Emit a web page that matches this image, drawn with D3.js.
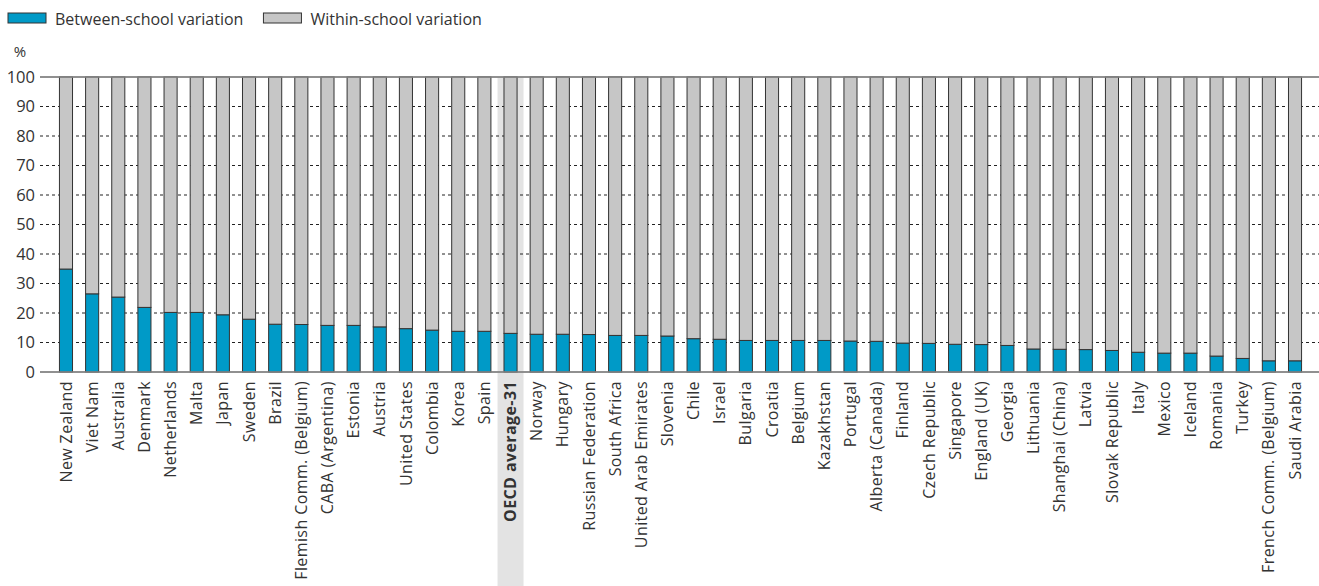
<!DOCTYPE html>
<html>
<head>
<meta charset="utf-8">
<script src="https://cdn.jsdelivr.net/npm/d3@7"></script>
<style>
  body { margin: 0; background: #fff; }
  text { font-family: "Open Sans", "Noto Sans", sans-serif; fill: #333; }
</style>
</head>
<body>
<div id="chart"></div>
<script>
// Data
const countries = [
  "New Zealand", "Viet Nam", "Australia", "Denmark", "Netherlands", "Malta", "Japan", "Sweden",
  "Brazil", "Flemish Comm. (Belgium)", "CABA (Argentina)", "Estonia", "Austria", "United States",
  "Colombia", "Korea", "Spain", "OECD average-31", "Norway", "Hungary", "Russian Federation",
  "South Africa", "United Arab Emirates", "Slovenia", "Chile", "Israel", "Bulgaria", "Croatia",
  "Belgium", "Kazakhstan", "Portugal", "Alberta (Canada)", "Finland", "Czech Republic", "Singapore",
  "England (UK)", "Georgia", "Lithuania", "Shanghai (China)", "Latvia", "Slovak Republic", "Italy",
  "Mexico", "Iceland", "Romania", "Turkey", "French Comm. (Belgium)", "Saudi Arabia"
];
const betweenSchool = [
  34.9, 26.5, 25.4, 21.9, 20.2, 20.2, 19.4, 17.9,
  16.2, 16.1, 15.8, 15.8, 15.3, 14.7,
  14.2, 13.8, 13.8, 13.1, 12.8, 12.8, 12.7,
  12.4, 12.4, 12.2, 11.3, 11.1, 10.7, 10.7,
  10.7, 10.7, 10.5, 10.4, 9.8, 9.7, 9.4,
  9.3, 9.0, 7.8, 7.7, 7.6, 7.3, 6.7,
  6.4, 6.4, 5.4, 4.6, 3.8, 3.8
];
const withinSchool = betweenSchool.map(v => 100 - v);
const yTicks = [0, 10, 20, 30, 40, 50, 60, 70, 80, 90, 100];
const highlight = "OECD average-31";
const legendItems = [
  { label: "Between-school variation", color: "#009ac7" },
  { label: "Within-school variation", color: "#c6c6c6" }
];

const width = 1319, height = 586;
const plotLeft = 40, plotRight = 1319, plotTop = 77, plotBottom = 372;

const svg = d3.select("#chart")
  .append("svg")
  .attr("width", width)
  .attr("height", height);

const x = d3.scaleBand()
  .domain(countries)
  .range([42, plotRight])
  .paddingInner(0.5)
  .paddingOuter(0.667);

const y = d3.scaleLinear()
  .domain([0, 100])
  .range([plotBottom, plotTop]);

// highlight band behind OECD average
svg.append("rect")
  .attr("x", x(highlight) + x.bandwidth() / 2 - 13)
  .attr("y", plotTop)
  .attr("width", 26)
  .attr("height", height - plotTop)
  .attr("fill", "#e3e3e3");

// gridlines
const grid = svg.append("g");
grid.selectAll("line")
  .data(yTicks)
  .join("line")
  .attr("x1", plotLeft)
  .attr("x2", plotRight)
  .attr("y1", d => y(d))
  .attr("y2", d => y(d))
  .attr("stroke", d => (d === 0 || d === 100) ? "#888" : "#222")
  .attr("stroke-width", d => (d === 0 || d === 100) ? 1.5 : 1)
  .attr("stroke-dasharray", d => (d === 0 || d === 100) ? null : "3,3");

grid.selectAll("text")
  .data(yTicks)
  .join("text")
  .attr("x", 35)
  .attr("y", d => y(d))
  .attr("dy", "0.35em")
  .attr("text-anchor", "end")
  .attr("font-size", 16.5)
  .text(d => d);

svg.append("text")
  .attr("x", 20)
  .attr("y", 57)
  .attr("text-anchor", "middle")
  .attr("font-size", 15)
  .text("%");

// stacked bars
const stackData = countries.map((c, i) => ({ country: c, between: betweenSchool[i], within: withinSchool[i] }));
const series = d3.stack().keys(["between", "within"])(stackData);
const colors = ["#009ac7", "#c6c6c6"];

svg.append("g")
  .selectAll("g")
  .data(series)
  .join("g")
  .attr("fill", (d, i) => colors[i])
  .selectAll("rect")
  .data(d => d)
  .join("rect")
  .attr("x", d => x(d.data.country))
  .attr("width", x.bandwidth())
  .attr("y", d => y(d[1]))
  .attr("height", d => y(d[0]) - y(d[1]))
  .attr("stroke", "#333")
  .attr("stroke-width", 1);

// redraw top and bottom lines above bars
svg.append("line")
  .attr("x1", plotLeft).attr("x2", plotRight)
  .attr("y1", y(100)).attr("y2", y(100))
  .attr("stroke", "#888").attr("stroke-width", 1.5);
svg.append("line")
  .attr("x1", plotLeft).attr("x2", plotRight)
  .attr("y1", y(0)).attr("y2", y(0))
  .attr("stroke", "#888").attr("stroke-width", 1.5);

// category labels
svg.append("g")
  .selectAll("text")
  .data(countries)
  .join("text")
  .attr("transform", d => `translate(${x(d) + x.bandwidth() / 2},${plotBottom + 9}) rotate(-90)`)
  .attr("dy", "0.35em")
  .attr("text-anchor", "end")
  .attr("font-size", 16)
  .attr("letter-spacing", 0.4)
  .attr("font-weight", d => d === highlight ? "bold" : null)
  .text(d => d);

// legend
const legend = svg.append("g");
let lx = 8;
legendItems.forEach(item => {
  legend.append("rect")
    .attr("x", lx)
    .attr("y", 13)
    .attr("width", 38)
    .attr("height", 10)
    .attr("fill", item.color)
    .attr("stroke", "#333")
    .attr("stroke-width", 1);
  const t = legend.append("text")
    .attr("x", lx + 47)
    .attr("y", 19)
    .attr("dy", "0.35em")
    .attr("font-size", 16)
    .text(item.label);
  lx += 47 + t.node().getComputedTextLength() + 20;
});
</script>
</body>
</html>
